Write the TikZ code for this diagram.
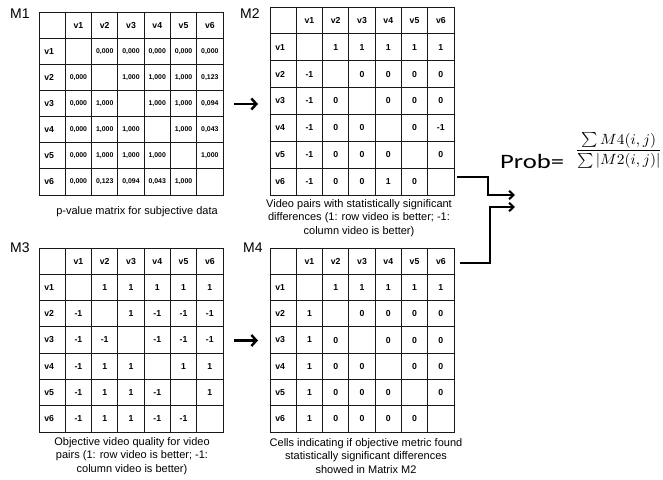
\documentclass[tikz,border=0pt]{standalone}
\usepackage{fontspec}
\setmainfont{Liberation Sans}
\newfontfamily\calibri{Carlito}
\usepackage{graphicx}
\usetikzlibrary{arrows.meta}

\tikzset{
  gridline/.style={line width=1pt, draw=black!90},
  hdr/.style={font=\fontsize{8.7}{10}\selectfont\bfseries, inner sep=0pt},
  val/.style={font=\fontsize{8.7}{10}\selectfont\bfseries, inner sep=0pt},
  pval/.style={font=\fontsize{6.9}{8}\selectfont\bfseries, inner sep=0pt},
  tag/.style={font=\fontsize{14}{16}\selectfont, inner sep=0pt, anchor=base west},
  caption/.style={font=\fontsize{11}{13.5}\selectfont, align=center, inner sep=0pt},
  bigarrow/.style={line width=2.4pt, -{Straight Barb[length=5pt,width=11pt]}},
  conn/.style={line width=2pt, line join=miter, -{Straight Barb[length=4.5pt,width=8.5pt]}},
}

% #1 name, #2 left, #3 top, #4 width, #5 height, #6 value style, #7 rows
\newcommand{\mattable}[7]{%
  \node[draw, gridline, minimum width=#4pt, minimum height=#5pt,
        anchor=north west, inner sep=0pt] (#1) at (#2,#3) {};
  \foreach \k in {1,...,6} {
    \draw[gridline] (#2+\k*#4/7, #3) -- ++(0,#5);
    \draw[gridline] (#2, #3+\k*#5/7) -- ++(#4,0);
    \node[hdr] (#1-c\k) at (#2+\k*#4/7+0.5*#4/7, #3+0.5*#5/7) {v\k};
    \node[hdr] (#1-r\k) at (#2+0.5*#4/7-3, #3+\k*#5/7+0.5*#5/7) {v\k};
  }
  \foreach \rowlist [count=\ri] in {#7} {
    \foreach \v [count=\ci] in \rowlist {
      \node[#6] (#1-\ri-\ci) at (#2+\ci*#4/7+0.5*#4/7, #3+\ri*#5/7+0.5*#5/7) {\v};
    }
  }
}

\begin{document}
\begin{tikzpicture}[x=1pt, y=-1pt]
\useasboundingbox (0,0) rectangle (663,479);

% matrix tags
\node[tag] (t1) at (10,18) {M1};
\node[tag] (t2) at (240,18) {M2};
\node[tag] (t3) at (10,252) {M3};
\node[tag] (t4) at (243,252) {M4};

% M1: p-values
\mattable{m1}{39}{12}{184}{183}{pval}{%
  {{},0{,}000,0{,}000,0{,}000,0{,}000,0{,}000},
  {0{,}000,{},1{,}000,1{,}000,1{,}000,0{,}123},
  {0{,}000,1{,}000,{},1{,}000,1{,}000,0{,}094},
  {0{,}000,1{,}000,1{,}000,{},1{,}000,0{,}043},
  {0{,}000,1{,}000,1{,}000,1{,}000,{},1{,}000},
  {0{,}000,0{,}123,0{,}094,0{,}043,1{,}000,{}}}

% M2: significant differences
\mattable{m2}{270}{7}{184}{188}{val}{%
  {{},1,1,1,1,1},
  {-1,{},0,0,0,0},
  {-1,0,{},0,0,0},
  {-1,0,0,{},0,-1},
  {-1,0,0,0,{},0},
  {-1,0,0,1,0,{}}}

% M3: objective quality
\mattable{m3}{39}{248}{184}{184}{val}{%
  {{},1,1,1,1,1},
  {-1,{},1,-1,-1,-1},
  {-1,-1,{},-1,-1,-1},
  {-1,1,1,{},1,1},
  {-1,1,1,-1,{},1},
  {-1,1,1,-1,-1,{}}}

% M4: agreement cells
\mattable{m4}{270}{248}{184}{184}{val}{%
  {{},1,1,1,1,1},
  {1,{},0,0,0,0},
  {1,0,{},0,0,0},
  {1,0,0,{},0,0},
  {1,0,0,0,{},0},
  {1,0,0,0,0,{}}}

% captions
\node[caption] (m1cap) at (137,212) {p-value matrix for subjective data};
\node[caption] (m2cap) at (359,218) {Video pairs with statistically significant\\differences (1: row video is better; -1:\\column video is better)};
\node[caption] (m3cap) at (132,456) {Objective video quality for video\\pairs (1: row video is better; -1:\\column video is better)};
\node[caption] (m4cap) at (366,456) {Cells indicating if objective metric found\\statistically significant differences\\showed in Matrix M2};

% formula
\node[inner sep=0pt, anchor=base west] (prob) at (500,168)
  {\scalebox{1.3}[1]{\calibri\fontsize{20.5}{24}\selectfont Prob=}};
\node[inner sep=0pt, anchor=west] (frac) at (575,150.5)
  {\resizebox*{87pt}{35pt}{$\displaystyle\frac{\sum M4(i,j)}{\sum|M2(i,j)|}$}};

% arrows between matrices
\draw[bigarrow] ([xshift=10pt]m1.east) -- ([xshift=-12pt]m2.west |- m1.east);
\draw[bigarrow] ([xshift=10pt]m3.east) -- ([xshift=-12pt]m4.west |- m3.east);

% connectors into the formula
\coordinate (a0) at (457,177);
\coordinate (a1) at (488,177);
\coordinate (a2) at (488,195);
\coordinate (tipA) at (515,195);
\coordinate (b0) at (460,263);
\coordinate (b1) at (490,263);
\coordinate (b2) at (490,207);
\coordinate (tipB) at (515,207);
\draw[conn] (a0) -- (a1) -- (a2) -- (tipA);
\draw[conn] (b0) -- (b1) -- (b2) -- (tipB);
\end{tikzpicture}
\end{document}
